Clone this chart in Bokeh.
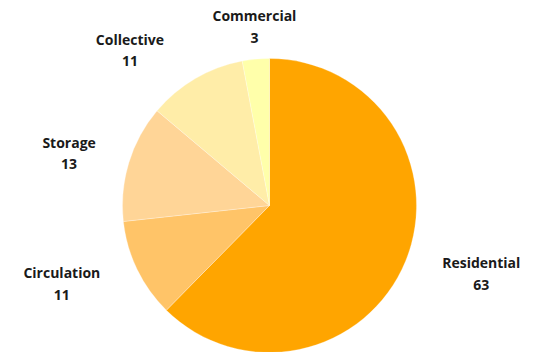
import math
from bokeh.plotting import figure
from bokeh.models import Range1d, ColumnDataSource
from bokeh.core.properties import value
from bokeh.embed import file_html
from bokeh.resources import INLINE

categories = ["Residential", "Circulation", "Storage", "Collective", "Commercial"]
values = [63, 11, 13, 11, 3]
colors = ["#FFA500", "#FFC468", "#FFD597", "#FFEDA8", "#FFFFAA"]

W, H = 538, 352
cx, cy, r = 269, 147, 147
label_r = r * 1.1
pad = 17

total = sum(values)
starts, ends, lx, ly_name, ly_val, texts_v = [], [], [], [], [], []
cum = 0
for name, v in zip(categories, values):
    a0 = math.pi / 2 - 2 * math.pi * cum / total
    a1 = math.pi / 2 - 2 * math.pi * (cum + v) / total
    starts.append(a1)
    ends.append(a0)
    mid = (a0 + a1) / 2
    c, s = math.cos(mid), math.sin(mid)
    hw = len(name) * 4.1
    bx = cx + c * label_r
    if abs(c) > 0.2:
        bx += (1 if c > 0 else -1) * (pad + hw)
    by = cy + s * label_r + s * 18
    lx.append(bx)
    ly_name.append(by + 11)
    ly_val.append(by - 11)
    texts_v.append(str(v))
    cum += v

src = ColumnDataSource(dict(start=starts, end=ends, color=colors,
                            lx=lx, lyn=ly_name, lyv=ly_val,
                            name=categories, val=texts_v))

p = figure(width=W, height=H, output_backend="svg", toolbar_location=None,
           x_range=Range1d(0, W), y_range=Range1d(0, H), min_border=0)
p.axis.visible = False
p.grid.visible = False
p.outline_line_color = None
p.background_fill_color = "white"

p.wedge(x=cx, y=cy, radius=r, start_angle="start", end_angle="end",
        fill_color="color", line_color="white", line_alpha=0.4, line_width=0.7,
        source=src)

for ycol, tcol in (("lyn", "name"), ("lyv", "val")):
    p.text(x="lx", y=ycol, text=tcol, source=src, text_align="center",
           text_baseline="middle", text_font=value("Open Sans"),
           text_font_size="14px", text_font_style="bold", text_color="#1a1a1a")

open("out.html", "w").write(file_html(p, INLINE))
